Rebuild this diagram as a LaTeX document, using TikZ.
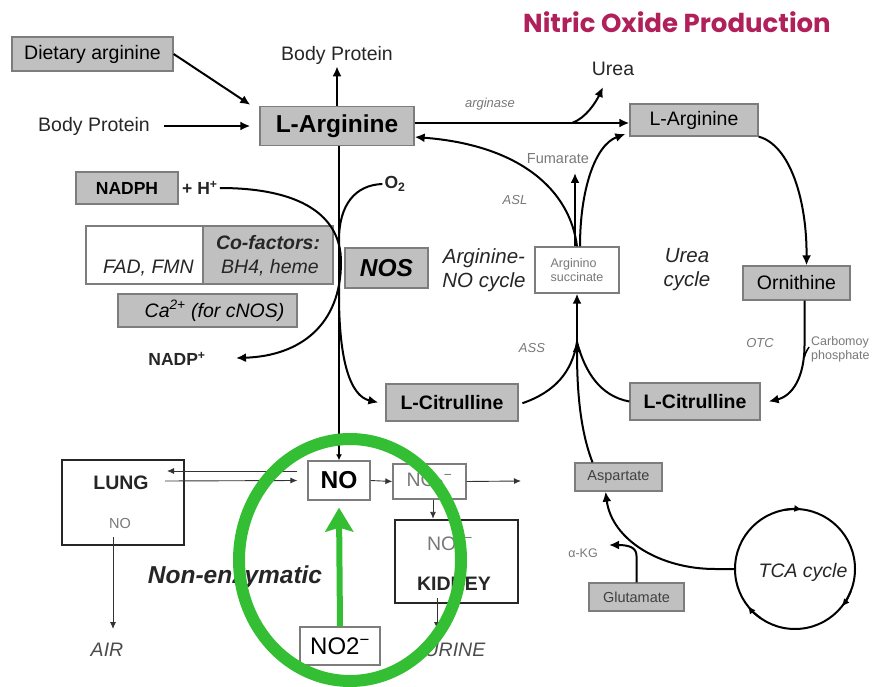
\documentclass[tikz,border=0pt]{standalone}
\usepackage{fontspec}
\setmainfont{Liberation Sans}
\newfontfamily\titlefont{Poppins}
\usetikzlibrary{arrows.meta,calc}
\definecolor{boxgray}{RGB}{192,192,192}
\definecolor{bordergray}{RGB}{125,125,125}
\definecolor{labgray}{RGB}{120,120,120}
\definecolor{titlered}{RGB}{176,32,90}
\definecolor{nogreen}{RGB}{52,190,52}
\newcommand\myN{\fontsize{19.5}{23}\selectfont}
\newcommand\myNb{\fontsize{19.5}{23}\selectfont\bfseries}
\newcommand\myNi{\fontsize{19.5}{23}\selectfont\itshape}
\newcommand\myNbi{\fontsize{19.5}{23}\selectfont\bfseries\itshape}
\newcommand\myLb{\fontsize{24.5}{28}\selectfont\bfseries}
\newcommand\myLbi{\fontsize{24.5}{28}\selectfont\bfseries\itshape}
\newcommand\myL{\fontsize{24}{28}\selectfont}
\newcommand\myS{\fontsize{14.5}{17}\selectfont}
\newcommand\mySb{\fontsize{17.5}{20}\selectfont\bfseries}
\newcommand\myXS{\fontsize{12.5}{14}\selectfont}
\newcommand\myXSi{\fontsize{13}{15}\selectfont\itshape}
\newcommand\myMi{\fontsize{20.5}{24}\selectfont\itshape}
\begin{document}
\begin{tikzpicture}[x=1pt,y=-1pt,
  gbox/.style={draw=bordergray, fill=boxgray, line width=1.3pt, inner sep=0pt},
  wbox/.style={draw=bordergray, fill=white, line width=1.3pt, inner sep=0pt},
  bbox/.style={draw=black!85, fill=white, line width=2.4pt, inner sep=0pt},
  txt/.style={inner sep=2pt, text=black!85},
  conn/.style={line width=2pt, black},
  arr/.style={conn, -{Latex[length=10pt,width=9pt]}},
  thinarr/.style={line width=0.9pt, black!80, -{Latex[length=7pt,width=6pt]}},
  greenarr/.style={line width=6pt, nogreen, -{Stealth[length=24pt,width=28pt,inset=4pt]}}
]
\useasboundingbox (0,0) rectangle (881,687);

% title
\node[font=\titlefont\bfseries\fontsize{26}{30}\selectfont, text=titlered] (title) at (677,22) {Nitric Oxide Production};

% top-left
\node[gbox, minimum width=161, minimum height=34, font=\myN] (DA) at (92.5,54) {Dietary arginine};
\node[txt, font=\myN] (BPt) at (337,55) {Body Protein};
\node[txt, font=\myN] (BPl) at (94,126) {Body Protein};
\node[gbox, minimum width=154, minimum height=39, font=\myLb] (LA) at (337,126) {L-Arginine};

% arginase / urea
\node[txt, font=\myXSi, text=labgray] (argi) at (490,104) {arginase};
\node[txt, font=\myN] (Urea) at (613,69) {Urea};
\coordinate (ureab) at (572,123);
\coordinate (ureatip) at (603,87);

% right cycle boxes
\node[gbox, minimum width=128, minimum height=32, font=\myN] (LAr) at (694,120) {L-Arginine\hspace{12pt}};
\node[gbox, minimum width=107, minimum height=34, font=\myN] (Orn) at (796.5,283) {Ornithine};
\node[gbox, minimum width=130, minimum height=37, font=\myNb] (LCr) at (695,401.5) {L-Citrulline};
\node[wbox, minimum width=84, minimum height=46, font=\myXS, text=labgray, align=left] (AS) at (577,270) {Arginino\\succinate};
\node[gbox, minimum width=132, minimum height=37, font=\myNb] (LCl) at (452,402.5) {L-Citrulline};

% labels in cycles
\node[txt, font=\myMi, align=center] (ANO) at (484,270) {Arginine-\\NO cycle};
\node[txt, font=\myMi, align=center] (UC) at (687,270) {Urea\\cycle};
\node[txt, font=\myS, text=labgray] (Fum) at (558,159) {Fumarate};
\node[txt, font=\myXSi, text=labgray] (ASL) at (515,200) {ASL};
\node[txt, font=\myXSi, text=labgray] (ASS) at (532,348) {ASS};
\node[txt, font=\myXSi, text=labgray] (OTC) at (760,343) {OTC};
\node[txt, font=\myXS, text=labgray, align=left, anchor=west] (Carb) at (809,349) {Carbomoy\\phosphate};

% NOS side
\node[gbox, minimum width=102, minimum height=32, font=\mySb] (NADPH) at (127,188) {NADPH};
\node[txt, font=\mySb, anchor=west] (H) at (180,188) {+ H\textsuperscript{+}};
\node[wbox, minimum width=117, minimum height=58] (FAD) at (144.5,255) {};
\node[gbox, minimum width=130, minimum height=58] (CoF) at (268,255) {};
\node[txt, font=\myNi, anchor=east] (FADt) at (196,268) {FAD, FMN};
\node[txt, font=\myNbi] (CoFt) at (268,243) {Co-factors:};
\node[txt, font=\myNi] (CoFt2) at (270,268) {BH4, heme};
\node[gbox, minimum width=179, minimum height=33, font=\myNi] (Ca) at (207.5,310.5) {\hspace{14pt}Ca\textsuperscript{2+} (for cNOS)};
\node[txt, font=\mySb] (NADP) at (177,359) {NADP\textsuperscript{+}};
\coordinate (nadptip) at (236,358);
\node[txt, font=\mySb] (O2) at (395,184) {O\textsubscript{2}};
\node[gbox, minimum width=83, minimum height=40, font=\myLbi] (NOS) at (386.5,268) {NOS};

% bottom row
\node[bbox, minimum width=122, minimum height=85] (LUNG) at (123,502.5) {};
\node[txt, font=\myNb] (LUNGt) at (121,483) {LUNG};
\node[txt, font=\myS, text=labgray] (LUNGno) at (120,524) {NO};
\node[wbox, minimum width=62, minimum height=39, font=\myLb] (NO) at (339,480.5) {NO};
\node[wbox, minimum width=73, minimum height=35, font=\myN, text=labgray] (NO3) at (429.5,481.5) {NO\textsubscript{3}\textsuperscript{−}};
\node[bbox, minimum width=123, minimum height=83] (KID) at (456.5,561.5) {};
\node[txt, font=\myN, text=labgray] (KIDno) at (450,545) {NO\textsubscript{3}\textsuperscript{−}};
\node[txt, font=\myNb] (KIDt) at (454,584) {KIDNEY};
\node[txt, font=\myNi, text=black!70] (AIR) at (107,650) {AIR};
\node[txt, font=\myNi, text=black!70] (URINE) at (455,650) {URINE};
\node[txt, font=\myLbi] (NonE) at (235,577) {Non-enzymatic};
\node[wbox, minimum width=80, minimum height=38, font=\myL] (NO2) at (340,646) {NO2\textsuperscript{−}};
\coordinate (lungin) at (167,471);
\coordinate (lungout) at (165,481);
\coordinate (no3out) at (521,481);
\coordinate (kidout) at (437,598);
\coordinate (urinetip) at (437,629);
\coordinate (lungno) at (113,537);
\coordinate (airtip) at (113,629);

% aspartate / TCA
\node[gbox, minimum width=87, minimum height=28, font=\myS, text=black!75] (Asp) at (618.5,477) {Aspartate};
\node[gbox, minimum width=95, minimum height=28, font=\myS, text=black!75] (Glu) at (636.5,597) {Glutamate};
\node[txt, font=\myXS, text=labgray] (aKG) at (583,553) {α-KG};
\coordinate (akgtip) at (609,545);
\node[circle, draw=black, line width=2pt, minimum size=120, inner sep=0pt] (TCA) at (795,569) {};
\node[txt, font=\myNi] (TCAt) at (803,572) {TCA cycle};

% ---------- connectors ----------
\draw[arr] (DA.east) -- ([xshift=-9pt,yshift=1pt]LA.north west);
\draw[arr, shorten <=12pt] (BPl.east) -- ([xshift=-9pt]LA.west);
\draw[arr] (LA.north) -- (BPt.south);
\draw[arr] (LA.east |- 0,123) -- (LAr.west |- 0,123);
\draw[arr] (ureab) .. controls (586,118) and (596,102) .. (ureatip);

% NOS reaction
\draw[conn, -{Latex[length=6pt,width=6pt]}] (LA.south -| NO.north) -- (NO.north);
\draw[arr] (H.east) .. controls (300,188) and (341,215) .. (341,262)
  .. controls (341,325) and (300,356) .. (nadptip);
\draw[arr] (O2.west) .. controls (355,185) and (339,205) .. (339,240) -- (339,295)
  .. controls (339,360) and (350,396) .. ([xshift=-7pt]LCl.west);

% arginine-NO cycle
\draw[arr] (AS.north) .. controls (570,190) and (520,145) .. ([yshift=-11pt]LA.east);
\draw[arr] ([xshift=-2pt]AS.north) -- ([xshift=-2pt]AS.north |- 0,173);
\draw[arr] ([xshift=3pt]AS.north) .. controls (580,190) and (595,145) .. ([xshift=-4pt,yshift=-14pt]LAr.west);
\coordinate (M) at (577,342);
\draw[conn, shorten <=4pt] ([yshift=-2pt]LCl.east) .. controls (555,392) and (572,372) .. (M);
\draw[conn] (LCr.west) .. controls (600,396) and (585,372) .. (M);
\draw[arr] ([xshift=-26pt]Asp.north) .. controls (580,430) and (577,390) .. (M);
\draw[arr] (M) -- (AS.south);

% urea cycle
\draw[arr] (LAr.south east) .. controls (790,145) and (807,200) .. ([xshift=10pt]Orn.north);
\draw[arr] ([xshift=8pt]Orn.south) -- (804.5,345) .. controls (804.5,378) and (792,396) .. ([xshift=8pt]LCr.east);
\draw[conn, line width=1.5pt] (804.5,357) .. controls (806,350) and (809,348) .. (Carb.west |- 0,347);

% TCA
\draw[arr] (TCA.west) -- (715,569) .. controls (660,569) and (612,540) .. ([xshift=-13pt]Asp.south);
\draw[arr] (Glu.north) -- (636.5,556) .. controls (636.5,548) and (630,545) .. (akgtip);
\draw[-{Latex[length=8pt,width=7pt]}, line width=2pt] ($(TCA.center)+(-100:60)$) arc[start angle=-100, end angle=-83, radius=60];
\draw[-{Latex[length=8pt,width=7pt]}, line width=2pt] ($(TCA.center)+(22:60)$) arc[start angle=22, end angle=39, radius=60];
\draw[-{Latex[length=8pt,width=7pt]}, line width=2pt] ($(TCA.center)+(125:60)$) arc[start angle=125, end angle=142, radius=60];

% bottom thin arrows
\draw[thinarr] ([xshift=-10pt,yshift=9.5pt]NO.west) -- (lungin);
\draw[thinarr] (lungout) -- ([xshift=-10pt]NO.west);
\draw[thinarr] (NO.east) -- (NO3.west);
\draw[thinarr] (NO3.east) -- (no3out);
\draw[thinarr] (NO3.south -| 433,0) -- (KID.north -| 433,0);
\draw[thinarr] (kidout) -- (urinetip);
\draw[thinarr] (lungno) -- (airtip);

% green highlight
\draw[greenarr] (NO2.north) -- ([yshift=-7pt]NO.south);
\draw[nogreen, line width=12pt] (350,560) ellipse [x radius=111, y radius=121];
\end{tikzpicture}
\end{document}
